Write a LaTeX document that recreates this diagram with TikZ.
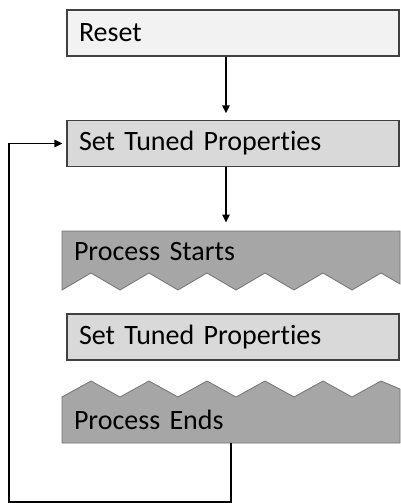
\documentclass[tikz,border=0pt]{standalone}
\usepackage{fontspec}
\setmainfont{Carlito}[Ligatures=NoCommon]
\usepackage{xcolor}
\usetikzlibrary{arrows.meta,positioning,calc}

\definecolor{resetgray}{HTML}{F2F2F2}
\definecolor{tunedgray}{HTML}{D9D9D9}
\definecolor{procgray}{HTML}{A6A6A6}

\begin{document}
\begin{tikzpicture}[
  x=0.75pt, y=-0.75pt,
  stage/.style={draw=black!75, line width=0.8pt, minimum width=249pt, minimum height=34.5pt,
    text width=231pt, inner xsep=9pt, align=left, font=\fontsize{21}{24}\selectfont},
  proc/.style={minimum width=253.5pt, text width=235.5pt, inner xsep=9pt, align=left,
    font=\fontsize{21}{24}\selectfont},
  edge/.style={draw=black!55, line width=0.6pt, fill=procgray},
  arr/.style={-{Triangle[length=6pt,width=5.5pt]}, line width=1.1pt, shorten >=5pt},
  >=Stealth
]
  \useasboundingbox (0,0) rectangle (400,503);

  % process shapes with torn edges
  \path[edge] (62,231) -- (400,231) -- (400,284)
    \foreach \k in {5,4,...,0} { -- ({91+58*\k},273) -- ({62+58*\k},290) } -- cycle;
  \path[edge] (62,443) -- (400,443) -- (400,389)
    \foreach \k in {5,4,...,0} { -- ({91+58*\k},381) -- ({62+58*\k},397) } -- cycle;

  % steps
  \node[stage, fill=resetgray] (reset) at (233,33) {Reset};
  \node[stage, fill=tunedgray] (tuned) at (233,143.5) {Set Tuned Properties};
  \node[proc, minimum height=31pt] (starts) at (231,251.5) {Process Starts};
  \node[stage, fill=tunedgray] (tunedin) at (233,337) {Set Tuned Properties};
  \node[proc, minimum height=34.5pt] (ends) at (231,420) {Process Ends};

  % flow
  \draw[arr] ([xshift=-5.25pt]reset.south) -- ([xshift=-5.25pt]tuned.north);
  \draw[arr, shorten >=6pt] ([xshift=-5.25pt]tuned.south) -- ([xshift=-3.75pt]starts.north);

  % loop back
  \coordinate (back) at (9,502);
  \draw[arr, shorten >=3pt] (ends.south) |- (back) |- (tuned.west);
\end{tikzpicture}
\end{document}
